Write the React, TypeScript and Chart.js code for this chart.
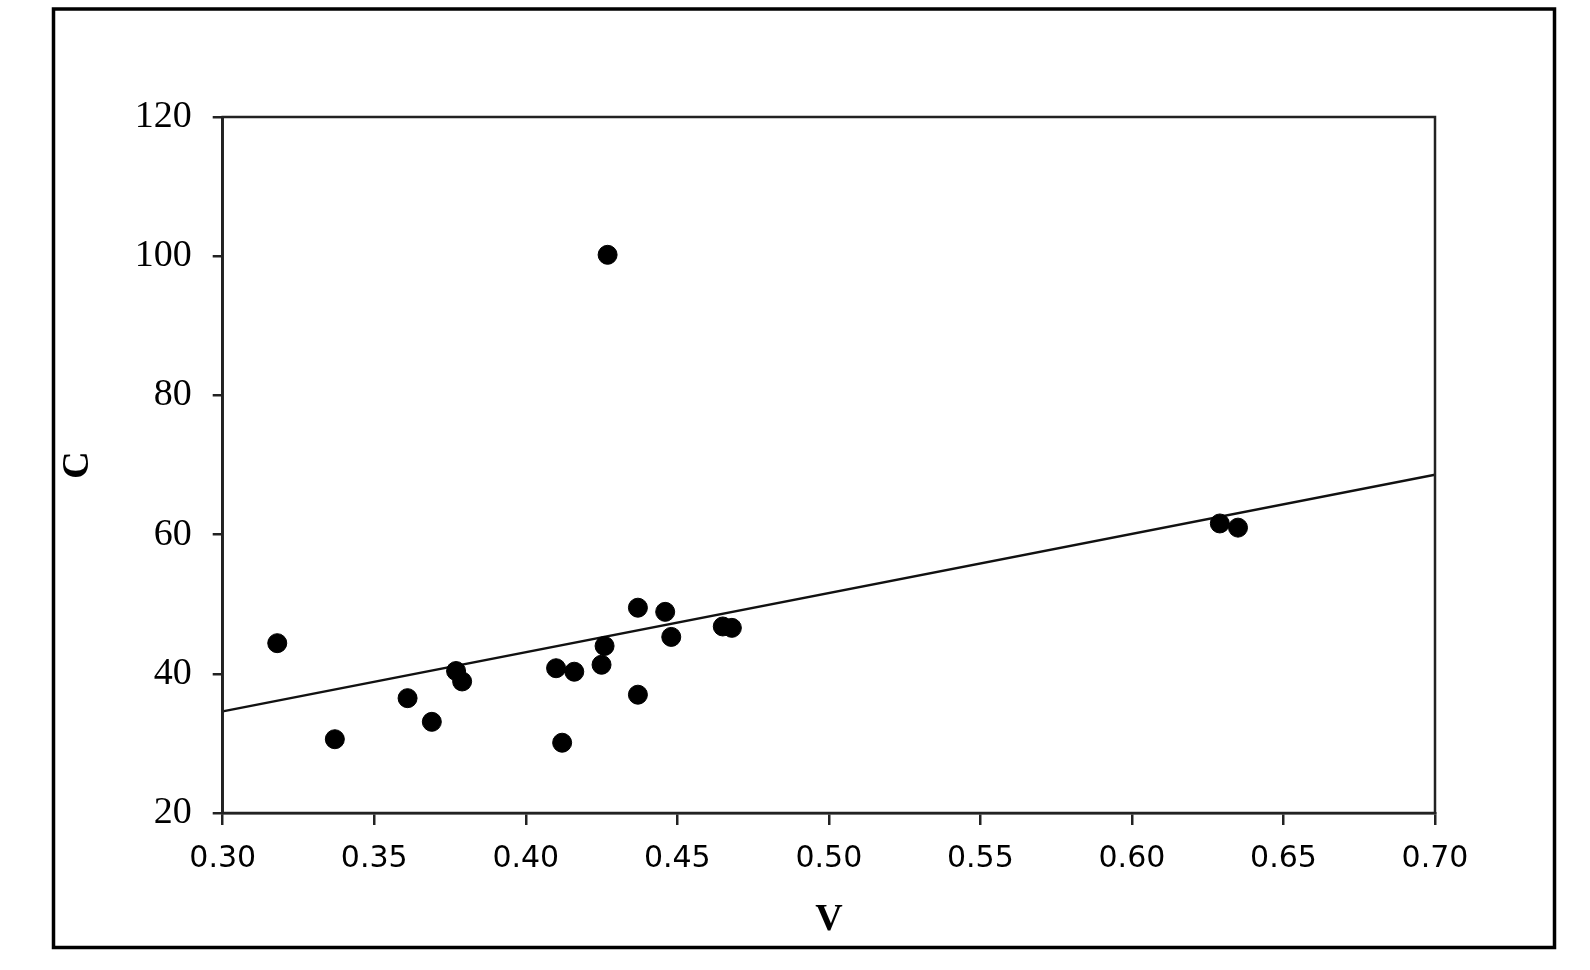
import React, { useEffect, useRef } from "react";
import { Chart, registerables } from "chart.js";

Chart.register(...registerables);

const vValues = [0.318, 0.337, 0.361, 0.369, 0.377, 0.379, 0.410, 0.412, 0.416, 0.425, 0.426, 0.427, 0.437, 0.437, 0.446, 0.448, 0.465, 0.468, 0.629, 0.635];
const cValues = [44.4, 30.6, 36.5, 33.1, 40.4, 38.9, 40.8, 30.1, 40.3, 41.3, 44.0, 100.2, 37.0, 49.5, 48.9, 45.3, 46.8, 46.6, 61.6, 61.0];
const trendV = [0.30, 0.70];
const trendC = [34.6, 68.6];
const xTitle = "V";
const yTitle = "C";

const framePlugin = {
  id: "frameAndBox",
  beforeDraw(chart: any) {
    const ctx = chart.ctx;
    ctx.save();
    ctx.fillStyle = "#ffffff";
    ctx.fillRect(0, 0, chart.width, chart.height);
    ctx.strokeStyle = "#000000";
    ctx.lineWidth = 3.5;
    ctx.strokeRect(53.5, 9, 1501, 938.5);
    ctx.restore();
  },
  afterDatasetsDraw(chart: any) {
    const { ctx, chartArea } = chart;
    ctx.save();
    ctx.strokeStyle = "#222222";
    ctx.lineWidth = 2.5;
    ctx.strokeRect(chartArea.left, chartArea.top, chartArea.right - chartArea.left, chartArea.bottom - chartArea.top);
    ctx.restore();
  },
};

export default function App() {
  const ref = useRef<HTMLCanvasElement | null>(null);
  useEffect(() => {
    if (!ref.current) return;
    const chart = new Chart(ref.current, {
      type: "scatter",
      data: {
        datasets: [
          {
            label: "data",
            data: vValues.map((v, i) => ({ x: v, y: cValues[i] })),
            backgroundColor: "#000000",
            borderColor: "#000000",
            pointRadius: 9.5,
            pointBorderWidth: 1,
            pointStyle: "circle",
          },
          {
            label: "trend",
            type: "line",
            data: trendV.map((v, i) => ({ x: v, y: trendC[i] })),
            borderColor: "#111111",
            borderWidth: 2.5,
            pointRadius: 0,
            fill: false,
          } as any,
        ],
      },
      options: {
        responsive: false,
        animation: false,
        layout: { padding: { left: 0, top: 117, right: 155, bottom: 0 } },
        plugins: { legend: { display: false }, tooltip: { enabled: false } },
        scales: {
          x: {
            type: "linear",
            min: 0.3,
            max: 0.7,
            afterFit: (s: any) => { s.height = 157; },
            afterBuildTicks: (s: any) => {
              s.ticks = [0.3, 0.35, 0.4, 0.45, 0.5, 0.55, 0.6, 0.65, 0.7].map((v) => ({ value: v }));
            },
            ticks: {
              callback: (v: any) => Number(v).toFixed(2),
              font: { family: "'DejaVu Sans'", size: 30 },
              color: "#000000",
              padding: 16,
              maxRotation: 0,
            },
            grid: { drawOnChartArea: false, drawTicks: true, tickLength: 12, color: "#222222", lineWidth: 2.5 },
            border: { display: true, color: "#222222", width: 2.5 },
            title: {
              display: true,
              text: xTitle,
              font: { family: "'Liberation Serif'", size: 38, weight: "bold" },
              color: "#000000",
              padding: { top: 0, bottom: 27 },
            },
          },
          y: {
            type: "linear",
            min: 20,
            max: 120,
            afterFit: (s: any) => { s.width = 222.7; },
            ticks: {
              stepSize: 20,
              font: { family: "'Liberation Serif'", size: 38 },
              color: "#000000",
              padding: 21,
            },
            grid: { drawOnChartArea: false, drawTicks: true, tickLength: 10, color: "#222222", lineWidth: 2.5 },
            border: { display: true, color: "#222222", width: 2.5 },
            title: {
              display: true,
              text: yTitle,
              font: { family: "'Liberation Serif'", size: 38, weight: "bold" },
              color: "#000000",
              padding: { top: 55, bottom: 0 },
            },
          },
        },
      },
      plugins: [framePlugin],
    });
    return () => chart.destroy();
  }, []);
  return (
    <div style={{ position: "fixed", left: 0, top: 0, width: 1590, height: 970, background: "#fff" }}>
      <canvas ref={ref} width={1590} height={970} style={{ display: "block" }} />
    </div>
  );
}
